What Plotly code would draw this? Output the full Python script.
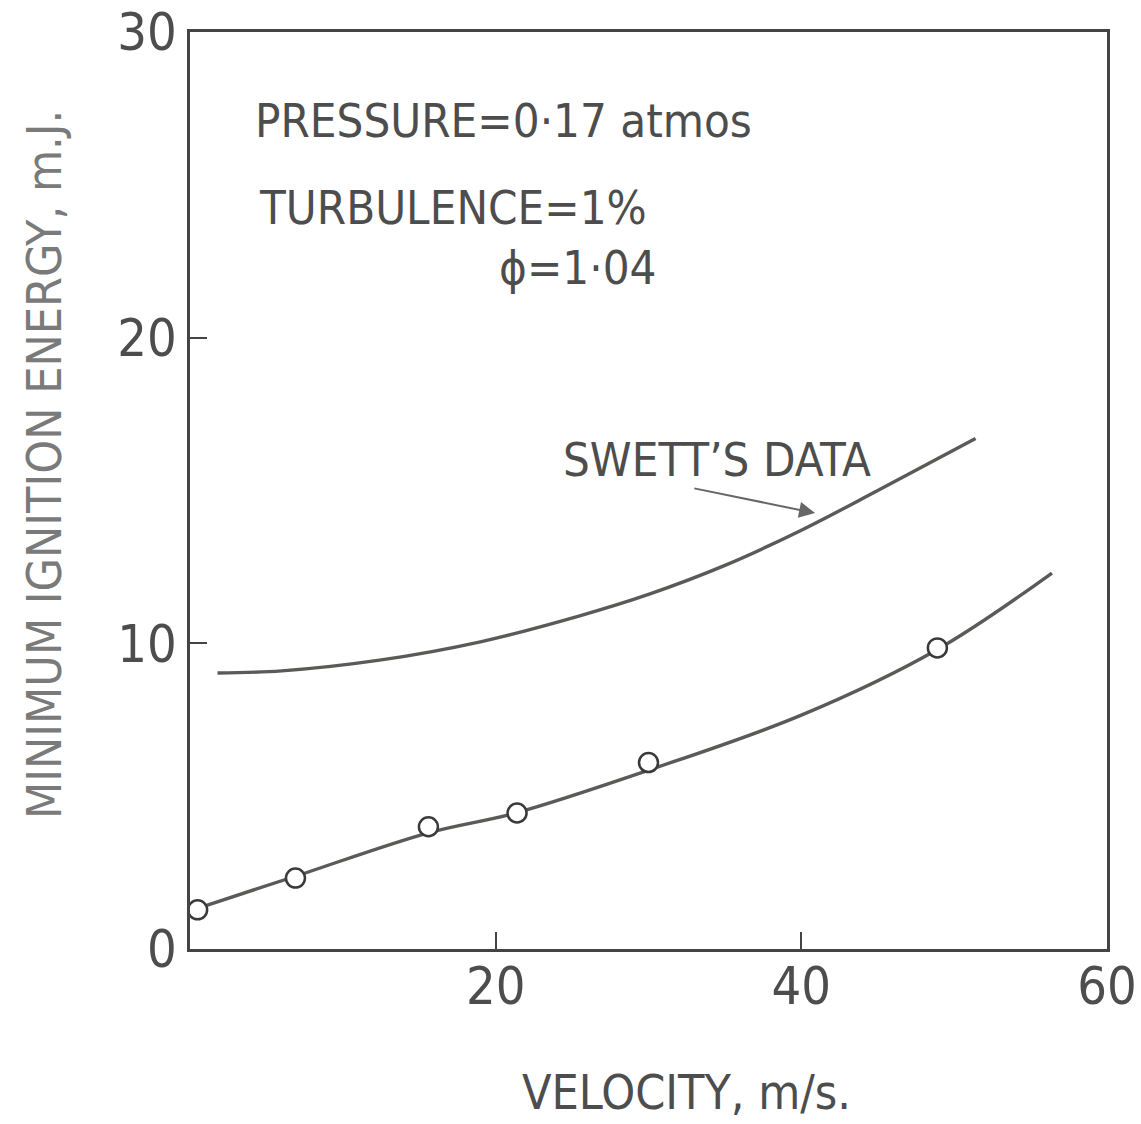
import plotly.graph_objects as go

# Measured points (open circles)
pts_x = [0.5, 6.9, 15.6, 21.4, 30.0, 48.9]
pts_y = [1.28, 2.32, 4.0, 4.45, 6.1, 9.85]

# Fitted curve through the present data
fit_x = [0.3, 6.9, 15.6, 21.3, 30.0, 40.0, 48.9, 56.4]
fit_y = [1.3, 2.38, 3.8, 4.45, 5.85, 7.65, 9.8, 12.3]

# Swett's data curve
swett_x = [1.8, 6.0, 12.4, 19.0, 25.5, 30.0, 35.0, 40.0, 45.0, 51.4]
swett_y = [9.03, 9.1, 9.45, 10.05, 10.9, 11.6, 12.55, 13.7, 15.0, 16.7]

x_ticks = [20, 40, 60]
y_ticks = [0, 10, 20, 30]

FONT = "DejaVu Sans Condensed, Liberation Sans Narrow, Liberation Sans, sans-serif"
INK = "#4d4d4d"
LINE = "#5a5a58"

fig = go.Figure()
fig.add_trace(go.Scatter(x=swett_x, y=swett_y, mode="lines",
                         line=dict(color=LINE, width=3.4, shape="spline", smoothing=1.0),
                         showlegend=False, hoverinfo="skip"))
fig.add_trace(go.Scatter(x=fit_x, y=fit_y, mode="lines",
                         line=dict(color=LINE, width=3.4, shape="spline", smoothing=1.0),
                         showlegend=False, hoverinfo="skip"))
fig.add_trace(go.Scatter(x=pts_x, y=pts_y, mode="markers",
                         marker=dict(symbol="circle", size=19, color="white",
                                     line=dict(color="#3a3a3a", width=2.5)),
                         showlegend=False))

annos = [
    dict(x=4.1, y=27.1, text="PRESSURE=0·17 atmos", xanchor="left", yanchor="middle"),
    dict(x=4.4, y=24.27, text="TURBULENCE=1%", xanchor="left", yanchor="middle"),
    dict(x=20.1, y=22.3, text="ϕ=1·04", xanchor="left", yanchor="middle"),
    dict(x=24.3, y=16.0, text="SWETT’S DATA", xanchor="left", yanchor="middle"),
]
for a in annos:
    fig.add_annotation(**a, xref="x", yref="y", showarrow=False,
                       font=dict(family=FONT, size=47, color=INK))

fig.add_annotation(x=40.9, y=14.26, ax=32.9, ay=15.08, xref="x", yref="y",
                   axref="x", ayref="y", text="", showarrow=True,
                   arrowhead=2, arrowsize=1.6, arrowwidth=2, arrowcolor="#666")

# Axis titles
fig.add_annotation(x=0.541, y=-0.156, xref="paper", yref="paper",
                   text="VELOCITY, m/s.", showarrow=False,
                   xanchor="center", yanchor="middle",
                   font=dict(family=FONT, size=48, color=INK))
fig.add_annotation(x=-0.159, y=0.528, xref="paper", yref="paper",
                   text="MINIMUM IGNITION ENERGY, m.J.", showarrow=False,
                   textangle=-90, xanchor="center", yanchor="middle",
                   font=dict(family=FONT, size=48, color="#7a7a7a"))

fig.update_layout(
    width=1141, height=1124,
    margin=dict(l=190, r=34, t=32, b=175),
    paper_bgcolor="white", plot_bgcolor="white",
    font=dict(family=FONT, color=INK),
    xaxis=dict(range=[0, 60], tickvals=x_ticks, ticktext=[str(v) for v in x_ticks],
               ticks="inside", ticklen=17, tickwidth=2, tickcolor="#444",
               showline=True, linecolor="#444", linewidth=2.5, mirror=True,
               showgrid=False, zeroline=False, automargin=False,
               ticklabelstandoff=-10,
               tickfont=dict(family=FONT, size=52, color=INK)),
    yaxis=dict(range=[0, 30], tickvals=y_ticks, ticktext=[str(v) for v in y_ticks],
               ticks="inside", ticklen=17, tickwidth=2, tickcolor="#444",
               showline=True, linecolor="#444", linewidth=2.5, mirror=True,
               showgrid=False, zeroline=False, automargin=False,
               tickfont=dict(family=FONT, size=52, color=INK)),
)

fig.write_html("out.html")
